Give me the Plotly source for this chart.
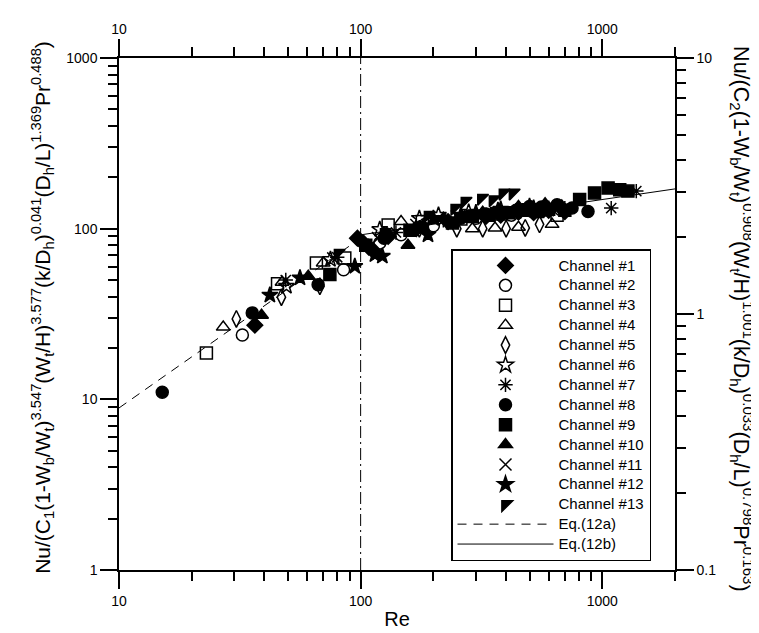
import plotly.graph_objects as go

# ---------------- data (Re, normalized Nu) ----------------
ch1_re = [36.5, 97, 103, 108, 113, 130, 170, 230, 330, 380, 450, 520, 600, 700]
ch1_nu = [27.2, 88, 82, 78, 74, 90, 100, 110, 118, 120, 125, 124, 128, 126]
ch2_re = [32.4, 85, 120, 147, 200, 300, 420, 560, 700]
ch2_nu = [23.8, 57.5, 82.5, 92, 104, 115, 120, 126, 128]
ch3_re = [23, 45.3, 65.6, 86, 130, 180, 260, 380, 520, 650]
ch3_nu = [18.7, 47.5, 63, 67.4, 105, 110, 114, 122, 128, 120]
ch4_re = [27, 47.3, 70, 147, 190, 290, 360, 450, 620]
ch4_nu = [26.5, 48.5, 63, 110, 112, 100, 101, 102, 106]
ch5_re = [30.6, 47, 67.8, 125, 175, 250, 320, 400, 480, 550]
ch5_nu = [29.6, 39.7, 46, 92, 100, 100, 100, 100, 101, 106]
ch6_re = [49.3, 75, 120, 175, 210, 280, 380, 500]
ch6_nu = [46, 66, 99, 115, 120, 125, 130, 135]
ch7_re = [49, 80, 140, 220, 350, 500, 700, 1089, 1383]
ch7_nu = [50, 68, 95, 112, 122, 128, 132, 132, 166]
ch8_re = [15.1, 35.6, 66.7, 125, 180, 260, 330, 380, 440, 500, 560, 650, 750, 873]
ch8_nu = [11, 32.1, 47, 88, 102, 115, 122, 125, 128, 135, 134, 138, 132, 126]
ch9_re = [74.6, 105, 160, 240, 290, 340, 410, 480, 540, 600, 700, 806, 929, 1057, 1181, 1277]
ch9_nu = [53.8, 80, 98, 108, 118, 120, 124, 128, 126, 130, 128, 148, 162, 173, 169, 166]
ch10_re = [38.9, 60.7, 157, 220, 270, 320, 380, 450, 510, 580, 680]
ch10_nu = [31.1, 52.7, 80, 115, 118, 125, 128, 135, 132, 140, 136]
ch11_re = [77, 118, 170, 250, 350, 470, 620]
ch11_nu = [67, 88, 105, 118, 122, 128, 130]
ch12_re = [42.1, 56.1, 94.6, 114.6, 123, 190, 200, 260, 300, 370, 440, 520, 600]
ch12_nu = [40.8, 51.5, 60.2, 70.4, 69, 92, 115, 120, 124, 128, 126, 132, 130]
ch13_re = [80.6, 125, 190, 245, 270, 316, 353, 388, 427]
ch13_nu = [72, 95, 120, 132, 145, 151, 148, 162, 162]

eq12a_re = [10, 100]
eq12a_nu = [8.9, 88]
eq12b_re = [100, 2000]
eq12b_nu = [92, 171]

transition_re = 100

x_ticks = [10, 100, 1000]
x_minor = [20, 30, 40, 50, 60, 70, 80, 90, 200, 300, 400, 500, 600, 700, 800, 900, 2000]
y_ticks = [1, 10, 100, 1000]
y_minor = [2, 3, 4, 5, 6, 7, 8, 9, 20, 30, 40, 50, 60, 70, 80, 90, 200, 300, 400, 500, 600, 700, 800, 900]
y2_ticks = [0.1, 1, 10]
y2_minor = [0.2, 0.3, 0.4, 0.5, 0.6, 0.7, 0.8, 0.9, 2, 3, 4, 5, 6, 7, 8, 9]

channels = [
    ("Channel #1", ch1_re, ch1_nu, "diamond"),
    ("Channel #2", ch2_re, ch2_nu, "circle-open"),
    ("Channel #3", ch3_re, ch3_nu, "square-open"),
    ("Channel #4", ch4_re, ch4_nu, "triangle-up-open"),
    ("Channel #5", ch5_re, ch5_nu, "diamond-tall-open"),
    ("Channel #6", ch6_re, ch6_nu, "star-open"),
    ("Channel #7", ch7_re, ch7_nu, "asterisk-open"),
    ("Channel #8", ch8_re, ch8_nu, "circle"),
    ("Channel #9", ch9_re, ch9_nu, "square"),
    ("Channel #10", ch10_re, ch10_nu, "triangle-up"),
    ("Channel #11", ch11_re, ch11_nu, "x-thin-open"),
    ("Channel #12", ch12_re, ch12_nu, "star"),
    ("Channel #13", ch13_re, ch13_nu, "triangle-nw"),
]

FONT = "Liberation Sans, Arial, Helvetica, sans-serif"


def legend_label(s):
    return "<span style='font-size:15px'>" + s + "</span>"


fig = go.Figure()
for name, xs, ys, sym in channels:
    fig.add_trace(go.Scatter(
        x=xs, y=ys, mode="markers", name=legend_label(name),
        marker=dict(symbol=sym, size=12, color="black",
                    line=dict(color="black", width=1.5)),
    ))

fig.add_trace(go.Scatter(x=eq12a_re, y=eq12a_nu, mode="lines", name=legend_label("Eq.(12a)"),
                         line=dict(color="black", width=1, dash="9px,7px")))
fig.add_trace(go.Scatter(x=eq12b_re, y=eq12b_nu, mode="lines", name=legend_label("Eq.(12b)"),
                         line=dict(color="black", width=1)))

# invisible trace to activate secondary axes
fig.add_trace(go.Scatter(x=[10], y=[1], xaxis="x2", yaxis="y2", mode="markers",
                         marker=dict(opacity=0), showlegend=False, hoverinfo="skip"))

fig.add_shape(type="line", xref="x", yref="paper", x0=transition_re, x1=transition_re,
              y0=0, y1=1, line=dict(color="black", width=1, dash="12px,4px,2px,4px"))

axis_common = dict(showgrid=False, zeroline=False, showline=True, linecolor="black",
                   linewidth=1.5, ticks="outside", ticklen=17, tickwidth=1.5,
                   tickcolor="black", tickfont=dict(family=FONT, size=14, color="black"))

fig.update_layout(
    width=759, height=633,
    margin=dict(l=111, r=92, t=50, b=71),
    paper_bgcolor="white", plot_bgcolor="white",
    font=dict(family=FONT, color="black"),
    xaxis=dict(type="log", range=[1, 3.30103], tickvals=x_ticks, ticktext=[str(v) for v in x_ticks],
               minor=dict(tickvals=x_minor, ticks="outside", ticklen=9, tickwidth=1.5, tickcolor="black"),
               title=dict(text="Re", font=dict(family=FONT, size=20), standoff=4),
               **axis_common),
    xaxis2=dict(type="log", range=[1, 3.30103], overlaying="x", side="top", anchor="y",
                tickvals=x_ticks, ticktext=[str(v) for v in x_ticks],
                minor=dict(tickvals=x_minor, ticks="outside", ticklen=9, tickwidth=1.5, tickcolor="black"),
                **axis_common),
    yaxis=dict(type="log", range=[0, 3], tickvals=y_ticks, ticktext=[str(v) for v in y_ticks],
               minor=dict(tickvals=y_minor, ticks="outside", ticklen=9, tickwidth=1.5, tickcolor="black"),
               **axis_common),
    yaxis2=dict(type="log", range=[-1, 1], overlaying="y", side="right", anchor="x",
                tickvals=y2_ticks, ticktext=["0.1", "1", "10"],
                minor=dict(tickvals=y2_minor, ticks="outside", ticklen=9, tickwidth=1.5, tickcolor="black"),
                **axis_common),
    legend=dict(xref="paper", yref="paper",
                x=(443 - 111) / (759 - 111 - 92), y=(562 - 241) / (633 - 50 - 71),
                xanchor="left", yanchor="top",
                bgcolor="white", bordercolor="black", borderwidth=1.5,
                font=dict(family=FONT, size=13, color="black"),
                itemwidth=96, tracegroupgap=0),
    showlegend=True,
)

left_title = ("Nu/(C<sub>1</sub>(1-W<sub>b</sub>/W<sub>t</sub>)<sup>3.547</sup>(W<sub>t</sub>/H)<sup>3.577</sup>"
              "(k/D<sub>h</sub>)<sup>0.041</sup>(D<sub>h</sub>/L)<sup>1.369</sup>Pr<sup>0.488</sup>)")
right_title = ("Nu/(C<sub>2</sub>(1-W<sub>b</sub>/W<sub>t</sub>)<sup>0.908</sup>(W<sub>t</sub>/H)<sup>1.001</sup>"
               "(k/D<sub>h</sub>)<sup>0.033</sup>(D<sub>h</sub>/L)<sup>0.798</sup>Pr<sup>0.163</sup>)")

fig.add_annotation(text=left_title, xref="paper", yref="paper", x=0, y=0.512, xshift=-76,
                   xanchor="center", yanchor="middle",
                   textangle=-90, showarrow=False, font=dict(family=FONT, size=21, color="black"))
fig.add_annotation(text=right_title, xref="paper", yref="paper", x=1, y=0.49, xshift=67,
                   xanchor="center", yanchor="middle",
                   textangle=90, showarrow=False, font=dict(family=FONT, size=21.5, color="black"))

fig.write_html("out.html")
